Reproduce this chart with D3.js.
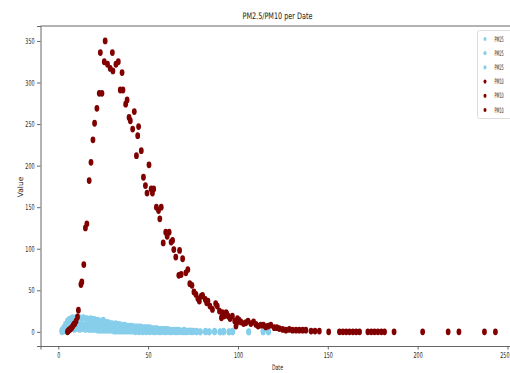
<!DOCTYPE html>
<html>
<head>
<meta charset="utf-8">
<script src="https://cdn.jsdelivr.net/npm/d3@7"></script>
<style>
  body { margin: 0; background: #fff; }
  text { font-family: "DejaVu Sans", sans-serif; fill: #222; }
</style>
</head>
<body>
<svg id="chart" width="510" height="373"></svg>
<script>
// PM2.5 readings (three columns share the same dates)
const pm25Dates = [2,3,4,5,6,7,8,9,10,11,12,13,14,15,16,17,18,19,20,21,22,23,24,25,26,27,28,29,30,31,
  32,33,34,35,36,37,38,39,40,41,42,43,44,45,46,47,48,49,50,51,52,53,54,55,56,57,58,59,60,61,
  62,63,64,65,66,67,68,69,70,71,72,73,74,75,77,79,82,84,87,90,92,95,97,106,114,117];
const pm25A = [2,5,9,13,15,16,17,16,17,16,17,16,17,16,16,15,16,15,15,14,14,13,12,14,12,11,11,10,10,9,
  10,9,9,8,8,8,7,7,7,7,6,6,6,6,6,5,5,5,5,5,4,4,4,4,3,3,3,3,3,3,
  2,2,2,2,2,2,1,1,2,1,1,1,1,1,1,0,1,0,1,0,1,0,1,0,1,0];
const pm25B = [1,2,4,6,7,8,9,8,9,8,8,9,8,8,8,7,8,7,7,7,6,6,6,6,5,5,5,5,4,4,
  4,4,4,3,3,3,3,3,3,3,2,2,2,2,2,2,2,2,2,2,2,2,2,2,1,1,1,1,1,1,
  1,1,1,1,1,1,1,1,1,1,1,1,1,1,0,0,0,0,0,0,0,0,0,0,0,0];
const pm25C = [0,1,2,3,3,4,4,3,4,4,3,4,4,3,4,3,3,3,3,3,2,2,2,2,2,2,2,2,2,1,
  1,1,1,1,1,1,1,1,1,1,1,0,1,0,1,0,1,0,1,0,1,0,0,1,0,0,1,0,0,1,
  0,0,1,0,0,0,1,0,0,0,0,1,0,0,0,0,0,0,0,0,0,0,0,0,0,0];

// PM10 readings, three columns
const pm10DatesA = [5.1,5.5,5.9,6.5,7.0,7.5,8.1,8.6,9.2,9.9,10.7,11.2,12.6,13.1,14.2,
  15.1,15.9,17.2,18.2,19.3,20.2,21.5,22.8,23.4,24.3,25.6,26.1,27.4,28.9];
const pm10A = [0,1,2,3,4,5,7,9,10,13,18,26,57,60,81,
  125,130,182,204,231,251,269,287,336,287,325,350,322,317];
const pm10DatesB = [30.1,30.4,32.1,33.4,34.5,35.5,36.0,37.5,38.3,39.4,40.1,41.4,42.3,43.5,44.2,
  44.7,46.2,47.4,48.5,49.4,50.5,51.7,52.4,53.1,54.6,55.8,56.5,57.3,58.4,59.8,
  60.6,61.7,62.8,63.6,64.3,65.4,67.1,67.5,68.4,69.2,71.0,72.1,73.2,74.4,75.5,
  76.6,77.7,78.5,79.6,80.3,81.8,82.6,83.3,84.4,85.8,87.6,88.5,89.7];
const pm10B = [336,314,322,325,291,312,291,274,279,258,254,244,265,212,236,
  247,218,186,176,167,201,172,167,172,150,146,136,150,107,120,
  115,120,108,110,99,90,68,98,69,88,71,75,58,56,48,
  45,40,37,43,44,39,35,37,31,27,34,31,25];
const pm10DatesC = [90.8,91.3,92.2,92.6,93.4,93.7,94.5,95.6,96.9,98.2,98.9,99.3,99.7,100.6,101.6,
  103.1,104.4,105.6,107.2,108.7,110.0,111.2,112.7,114.2,115.5,116.8,118.3,120.2,121.7,123.0,
  124.9,126.7,128.6,130.4,132.3,134.1,136.0,137.8,140.7,142.9,145.3,150.5,156.5,158.4,160.2,
  162.1,164.0,165.8,167.7,172.3,174.2,176.0,177.9,179.8,181.6,186.9,202.8,217.0,223.0,237.2,243.3];
const pm10C = [17,23,19,20,23,22,19,16,19,13,7,11,16,14,12,
  10,11,13,10,12,9,7,8,8,6,7,8,5,5,4,
  3,2,3,2,2,2,2,2,1,1,1,0,0,0,0,
  0,0,0,0,0,0,0,0,0,0,0,0,0,0,0,0];

const xTicks = [0, 50, 100, 150, 200, 250];
const yTicks = [0, 50, 100, 150, 200, 250, 300, 350];
const legendLabels = ["PM25", "PM25", "PM25", "PM10", "PM10", "PM10"];

const pm25Color = "#87ceeb", pm10Color = "#800000";

let series = [
  { dates: pm25Dates, values: pm25A, color: pm25Color },
  { dates: pm25Dates, values: pm25B, color: pm25Color },
  { dates: pm25Dates, values: pm25C, color: pm25Color },
  { dates: pm10DatesA, values: pm10A, color: pm10Color },
  { dates: pm10DatesB, values: pm10B, color: pm10Color },
  { dates: pm10DatesC, values: pm10C, color: pm10Color }
];

let svg = d3.select("#chart"),
  margin = { top: 26, left: 40.5, bottom: 346, right: 515 };

let x = d3.scaleLinear().domain([-9.9, 254.2]).range([margin.left, margin.right]),
  y = d3.scaleLinear().domain([-17, 368]).range([margin.bottom, margin.top]);

// squeeze text horizontally (the picture is narrow): scale x, keep the anchor in place
function squeeze(sel, k) {
  sel.each(function () {
    let t = d3.select(this);
    let x0 = +t.attr("x") || 0, dx = parseFloat(t.attr("dx")) || 0;
    t.attr("x", x0 / k).attr("dx", dx / k).attr("transform", "scale(" + k + ",1)");
  });
}

// points
series.forEach(function (s) {
  svg.append("g").selectAll("ellipse")
    .data(s.dates.map(function (d, i) { return [d, s.values[i]]; }))
    .enter().append("ellipse")
    .attr("cx", function (d) { return x(d[0]); })
    .attr("cy", function (d) { return y(d[1]); })
    .attr("rx", 2.4)
    .attr("ry", 3.4)
    .attr("fill", s.color);
});

// axes
svg.append("g")
  .attr("class", "axis axis--x")
  .attr("transform", "translate(0," + margin.bottom + ")")
  .call(d3.axisBottom(x).tickValues(xTicks).tickSize(3.5).tickPadding(3));
svg.append("g")
  .attr("class", "axis axis--y")
  .attr("transform", "translate(" + margin.left + ",0)")
  .call(d3.axisLeft(y).tickValues(yTicks).tickSize(3.5).tickPadding(2.5));

svg.selectAll(".axis path").attr("stroke", "#666");
svg.selectAll(".axis line").attr("stroke", "#666");
svg.selectAll(".axis text").attr("font-size", 8).attr("font-family", "DejaVu Sans").attr("fill", "#333");
// last x label sits on the window edge, keep it inside
svg.selectAll(".axis--x .tick text").filter(function (d) { return d === 250; })
  .attr("text-anchor", "end").attr("dx", 1.5);
squeeze(svg.selectAll(".axis text"), 0.6);

// top spine
svg.append("line")
  .attr("x1", margin.left).attr("x2", margin.right)
  .attr("y1", margin.top).attr("y2", margin.top)
  .attr("stroke", "#666");

// title and labels
let title = svg.append("text")
  .attr("x", 277.5).attr("y", 19.5)
  .attr("text-anchor", "middle")
  .attr("font-size", 9)
  .text("PM2.5/PM10 per Date");
squeeze(title, 0.72);

let xl = svg.append("text")
  .attr("x", 277.5).attr("y", 370.5)
  .attr("text-anchor", "middle")
  .attr("font-size", 7.5)
  .text("Date");
squeeze(xl, 0.62);

svg.append("text")
  .attr("transform", "translate(23,187) rotate(-90)")
  .attr("text-anchor", "middle")
  .attr("font-size", 7.5)
  .text("Value");

// legend
let lg = svg.append("g");
lg.append("rect")
  .attr("x", 477.5).attr("y", 30.5)
  .attr("width", 40).attr("height", 88)
  .attr("rx", 2)
  .attr("fill", "#fff").attr("fill-opacity", 0.8)
  .attr("stroke", "#ddd");
legendLabels.forEach(function (lab, i) {
  let cy = 39 + i * 14.2;
  lg.append("ellipse")
    .attr("cx", 485).attr("cy", cy)
    .attr("rx", 1.5).attr("ry", 2.1)
    .attr("fill", series[i].color);
  let t = lg.append("text")
    .attr("x", 494.5).attr("y", cy + 2.7)
    .attr("font-size", 7.5)
    .text(lab);
  squeeze(t, 0.45);
});
</script>
</body>
</html>
